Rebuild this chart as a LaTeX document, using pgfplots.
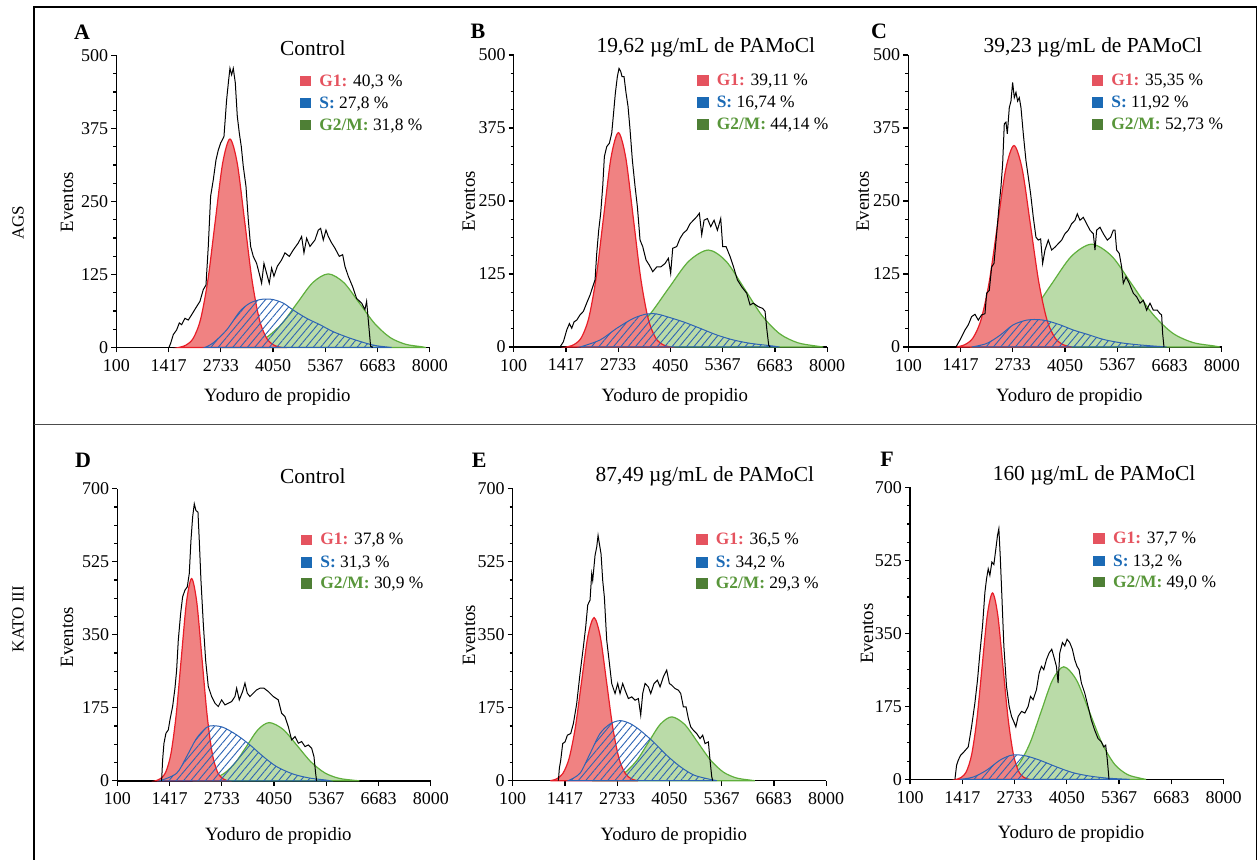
\documentclass[border=0pt]{standalone}
\usepackage{fontspec}
\setmainfont{Liberation Serif}
\usepackage{pgfplots}
\pgfplotsset{compat=1.18}
\usetikzlibrary{patterns.meta}

\definecolor{g1fill}{RGB}{240,130,130}
\definecolor{g1edge}{RGB}{232,30,40}
\definecolor{g2fill}{RGB}{186,219,168}
\definecolor{g2edge}{RGB}{95,175,60}
\definecolor{sblue}{RGB}{45,100,180}
\definecolor{cG1}{RGB}{229,83,95}
\definecolor{cS}{RGB}{27,106,181}
\definecolor{cG2}{RGB}{78,127,53}
\definecolor{tG2}{RGB}{88,150,58}

\pgfplotsset{
  panel/.style={
    width=156.75pt, height=146pt, scale only axis, anchor=south west,
    axis lines=left, axis line style={-, line width=0.75pt, black},
    xmin=100, xmax=8000, ymin=0,
    xtick={100,1416.67,2733.33,4050,5366.67,6683.33,8000},
    xticklabels={100,1417,2733,4050,5367,6683,8000},
    minor tick num=3,
    tick align=outside, major tick length=2.5pt, minor tick length=1.5pt,
    tick style={line width=0.6pt, black},
    tick label style={font=\fontsize{9}{11}\selectfont},
    yticklabel style={xshift=2pt},
    /pgf/number format/assume math mode=true,
    clip=false,
  },
  rowtop/.style={panel, ymax=500, ytick={0,125,250,375,500}},
  rowbot/.style={panel, ymax=700, ytick={0,175,350,525,700}},
  phG2/.style={draw=g2edge, fill=g2fill, line width=0.6pt, smooth},
  phG1/.style={draw=g1edge, fill=g1fill, line width=0.6pt, smooth},
  phS/.style={draw=sblue, line width=0.5pt, smooth, pattern={Lines[angle=50,distance=2.8pt,line width=0.45pt]}, pattern color=sblue},
  histo/.style={black, line width=0.5pt, sharp plot},
}
\tikzset{
  plett/.style={font=\fontsize{11}{12}\selectfont\bfseries},
  ptit/.style={font=\fontsize{10.7}{12}\selectfont},
  plab/.style={font=\fontsize{9.4}{11}\selectfont},
}
\newcommand{\phaselegend}[6]{%
  \node[anchor=west,inner sep=0pt,font=\fontsize{8.7}{10}\selectfont] at (axis description cs:0.584,#1) {\textcolor{cG1}{\rule{5.8pt}{5.2pt}}\hspace{4pt}\textbf{\textcolor{cG1}{G1:}} #4~\%};
  \node[anchor=west,inner sep=0pt,font=\fontsize{8.7}{10}\selectfont] at (axis description cs:0.584,#2) {\textcolor{cS}{\rule{5.8pt}{5.2pt}}\hspace{4pt}\textbf{\textcolor{cS}{S:}} #5~\%};
  \node[anchor=west,inner sep=0pt,font=\fontsize{8.7}{10}\selectfont] at (axis description cs:0.584,#3) {\textcolor{cG2}{\rule{5.8pt}{5.2pt}}\hspace{4pt}\textbf{\textcolor{tG2}{G2/M:}} #6~\%};
}

\begin{document}
\begin{tikzpicture}
\useasboundingbox (0,0) rectangle (629pt,430pt);
% frame
\draw[line width=0.65pt] (17pt,0pt) -- (17pt,426.5pt) -- (628.3pt,426.5pt) -- (628.3pt,0pt);
\draw[line width=0.8pt, black!70] (17pt,217.65pt) -- (628.3pt,217.65pt);
\node[rotate=90, font=\fontsize{8.5}{10}\selectfont] at (9pt,318.5pt) {AGS};
\node[rotate=90, font=\fontsize{8.5}{10}\selectfont] at (9pt,120.5pt) {KATO III};

% ---------------- A ----------------
\begin{axis}[rowtop, at={(58.15pt,256.25pt)}]
\addplot[phG2] coordinates {(2712,0) (3102,1.4) (3492,5.5) (3882,17.0) (4272,40.9) (4662,76.4) (5052,111.2) (5442,126) (5832,111.2) (6222,76.4) (6612,40.9) (7002,17.0) (7392,5.5) (7782,1.4) (7900,0)} \closedcycle;
\addplot[phG1] coordinates {(1669,0) (1854,4.0) (2039,15.7) (2224,48.3) (2409,115.9) (2594,216.5) (2779,315.1) (2964,357) (3149,315.1) (3334,216.5) (3519,115.9) (3704,48.3) (3889,15.7) (4074,4.0) (4259,0)} \closedcycle;
\addplot[phS] coordinates {(2330,0) (2544,8) (2880,30) (3216,62) (3468,76) (3720,82) (3888,83) (4056,82) (4308,76) (4560,64) (4896,50) (5232,39) (5568,27) (5988,16) (6408,7) (6660,3) (7038,0)} \closedcycle;
\addplot[histo] coordinates {(1427,0) (1469,7) (1536,22) (1620,30) (1688,42) (1746,39) (1830,50) (1914,47) (1998,56) (2124,70) (2208,79) (2292,99) (2360,107) (2418,173) (2477,259) (2544,287) (2612,321) (2670,338) (2729,350) (2813,361) (2880,424) (2931,458) (2964,478) (3006,467) (3048,478) (3099,453) (3149,396) (3200,367) (3250,344) (3300,310) (3368,276) (3426,219) (3485,173) (3552,156) (3636,144) (3720,122) (3762,110) (3821,144) (3888,127) (3955,110) (4014,136) (4073,122) (4157,139) (4266,150) (4350,162) (4460,156) (4560,167) (4686,179) (4770,190) (4829,162) (4897,187) (4980,173) (5106,184) (5190,201) (5249,204) (5316,184) (5384,201) (5443,190) (5527,179) (5610,170) (5720,156) (5804,159) (5862,139) (5946,122) (6056,104) (6156,84) (6282,76) (6366,65) (6408,79) (6450,47) (6509,2) (6560,0)};
\node[plett] at (axis description cs:-0.109,1.081) {A};
\node[ptit] at (axis description cs:0.627,1.026) {Control};
\node[plab] at (axis description cs:0.514,-0.170) {Yoduro de propidio};
\node[plab,rotate=90] at (axis description cs:-0.157,0.498) {Eventos};
\phaselegend{0.910}{0.835}{0.759}{40,3}{27,8}{31,8}
\end{axis}

% ---------------- B ----------------
\begin{axis}[rowtop, at={(256.85pt,256.5pt)}]
\addplot[phG2] coordinates {(1800,0) (2006,1.8) (2506,7.3) (3006,22.5) (3506,53.9) (4006,100.7) (4506,146.5) (5006,166) (5456,146.5) (5906,100.7) (6356,53.9) (6806,22.5) (7256,7.3) (7706,1.8) (7900,0)} \closedcycle;
\addplot[phG1] coordinates {(1432.5,0) (1619,4.1) (1805.5,16.1) (1992,49.7) (2178.5,119.2) (2365,222.6) (2551.5,323.9) (2738,367) (2924.5,323.9) (3111,222.6) (3297.5,119.2) (3484,49.7) (3670.5,16.1) (3857,4.1) (4043.5,0)} \closedcycle;
\addplot[phS] coordinates {(1772,0) (2276,12) (2696,32) (3116,49) (3452,56.5) (3704,56.5) (3956,52) (4376,43) (4796,32) (5216,20.6) (5636,12) (6056,6.3) (6476,2.9) (6627,1.7) (6800,0)} \closedcycle;
\addplot[histo] coordinates {(1268,0) (1352,9) (1436,29) (1503,40) (1562,32) (1621,43) (1688,46) (1772,55) (1856,61) (1956,78) (2024,89) (2091,103) (2150,115) (2192,160) (2242,200) (2292,229) (2343,275) (2385,326) (2444,343) (2511,349) (2570,366) (2612,397) (2662,435) (2712,463) (2754,477) (2796,472) (2830,463) (2880,463) (2931,435) (2981,412) (3032,372) (3090,320) (3158,275) (3217,240) (3284,183) (3351,172) (3435,149) (3519,140) (3603,129) (3704,137) (3805,137) (3914,143) (3998,152) (4056,126) (4107,169) (4208,172) (4292,186) (4376,195) (4460,200) (4544,211) (4628,217) (4712,223) (4779,229) (4838,192) (4897,217) (4981,220) (5065,206) (5149,217) (5233,200) (5317,220) (5367,172) (5451,172) (5552,155) (5636,138) (5736,115) (5846,103) (5972,92) (6056,72) (6140,75) (6266,69) (6375,66) (6434,61) (6476,32) (6526,3) (6560,0)};
\node[plett] at (axis description cs:-0.114,1.081) {B};
\node[ptit] at (axis description cs:0.613,1.026) {19,62 µg/mL de PAMoCl};
\node[plab] at (axis description cs:0.514,-0.170) {Yoduro de propidio};
\node[plab,rotate=90] at (axis description cs:-0.143,0.498) {Eventos};
\phaselegend{0.910}{0.835}{0.759}{39,11}{16,74}{44,14}
\end{axis}

% ---------------- C ----------------
\begin{axis}[rowtop, at={(454.15pt,256.5pt)}]
\addplot[phG2] coordinates {(1660,0) (2170,7.7) (2680,23.8) (3190,57.1) (3700,106.7) (4210,155.3) (4720,176) (5230,155.3) (5740,106.7) (6250,57.1) (6760,23.8) (7270,7.7) (7780,2.0) (7950,0)} \closedcycle;
\addplot[phG1] coordinates {(1310.5,0) (1518,3.8) (1725.5,15.1) (1933,46.7) (2140.5,112.0) (2348,209.2) (2555.5,304.5) (2763,345) (2970.5,304.5) (3178,209.2) (3385.5,112.0) (3593,46.7) (3800.5,15.1) (4008,3.8) (4215.5,0)} \closedcycle;
\addplot[phS] coordinates {(1696,0) (2074,6) (2410,20) (2746,38) (3082,46) (3334,47) (3586,45) (3922,38) (4258,29) (4594,22) (5014,13) (5434,7.4) (5854,4) (6274,1.7) (6610,0)} \closedcycle;
\addplot[histo] coordinates {(1301,0) (1402,12) (1528,29) (1612,38) (1696,52) (1780,56) (1864,46) (1948,55) (2032,57) (2074,92) (2141,97) (2200,137) (2259,143) (2326,194) (2385,240) (2435,274) (2477,313) (2519,382) (2561,385) (2595,365) (2645,410) (2687,421) (2729,453) (2771,427) (2813,436) (2855,421) (2897,427) (2939,410) (2998,365) (3065,319) (3124,291) (3183,262) (3250,222) (3317,188) (3376,183) (3435,185) (3485,143) (3544,166) (3628,183) (3712,166) (3796,171) (3880,177) (3964,183) (4048,194) (4132,200) (4216,211) (4300,217) (4359,228) (4426,217) (4510,222) (4594,211) (4678,200) (4762,194) (4804,166) (4846,200) (4930,205) (5014,194) (5115,183) (5199,188) (5266,200) (5308,200) (5350,166) (5417,160) (5476,137) (5518,109) (5585,120) (5669,109) (5770,92) (5854,86) (5938,75) (6022,80) (6106,63) (6190,75) (6274,63) (6375,63) (6442,57) (6484,55) (6509,23) (6543,0)};
\node[plett] at (axis description cs:-0.093,1.081) {C};
\node[ptit] at (axis description cs:0.589,1.026) {39,23 µg/mL de PAMoCl};
\node[plab] at (axis description cs:0.514,-0.170) {Yoduro de propidio};
\node[plab,rotate=90] at (axis description cs:-0.145,0.498) {Eventos};
\phaselegend{0.910}{0.835}{0.759}{35,35}{11,92}{52,73}
\end{axis}

% ---------------- D ----------------
\begin{axis}[rowbot, at={(58.65pt,39.6pt)}]
\addplot[phG2] coordinates {(2000,0) (2250,1.5) (2530,6.1) (2810,18.9) (3090,45.3) (3370,84.6) (3650,123.1) (3930,139.5) (4280,123.1) (4630,84.6) (4980,45.3) (5330,18.9) (5680,6.1) (6030,1.5) (6200,0)} \closedcycle;
\addplot[phG1] coordinates {(1063,0) (1193,5.4) (1323,21.3) (1453,65.6) (1583,157.5) (1713,294.2) (1843,428.0) (1973,485) (2103,428.0) (2233,294.2) (2363,157.5) (2493,65.6) (2623,21.3) (2753,5.4) (2883,0)} \closedcycle;
\addplot[phS] coordinates {(1175,0) (1595,18) (1847,58) (2099,102) (2351,128) (2519,132) (2771,128) (3107,110) (3443,86) (3779,58) (4115,34) (4535,16) (4956,6.4) (5375,1.6) (5459,0)} \closedcycle;
\addplot[histo] coordinates {(1217,0) (1242,50) (1276,90) (1326,114) (1385,122) (1427,146) (1494,178) (1553,222) (1595,265) (1637,337) (1696,401) (1746,441) (1805,457) (1864,465) (1914,497) (1956,576) (1998,632) (2040,664) (2082,648) (2133,644) (2166,576) (2208,481) (2267,377) (2326,289) (2393,226) (2477,202) (2561,186) (2645,178) (2729,194) (2813,182) (2897,186) (2981,190) (3065,202) (3107,222) (3174,194) (3258,214) (3317,234) (3376,210) (3443,202) (3527,210) (3612,218) (3696,222) (3796,222) (3905,214) (4031,202) (4157,194) (4241,162) (4325,154) (4409,130) (4493,98) (4578,106) (4662,90) (4746,94) (4830,82) (4914,86) (4998,78) (5056,58) (5098,18) (5123,0)};
\node[plett] at (axis description cs:-0.109,1.097) {D};
\node[ptit] at (axis description cs:0.624,1.042) {Control};
\node[plab] at (axis description cs:0.514,-0.188) {Yoduro de propidio};
\node[plab,rotate=90] at (axis description cs:-0.160,0.492) {Eventos};
\phaselegend{0.823}{0.745}{0.673}{37,8}{31,3}{30,9}
\end{axis}

% ---------------- E ----------------
\begin{axis}[rowbot, at={(256.35pt,39.65pt)}]
\addplot[phG2] coordinates {(2100,0) (2367,1.7) (2657,6.7) (2947,20.7) (3237,49.7) (3527,92.8) (3817,135.0) (4107,153) (4432,135.0) (4757,92.8) (5082,49.7) (5407,20.7) (5732,6.7) (6057,1.7) (6200,0)} \closedcycle;
\addplot[phG1] coordinates {(1047.5,0) (1205,4.3) (1362.5,17.2) (1520,52.9) (1677.5,127.0) (1835,237.1) (1992.5,345.1) (2150,391) (2307.5,345.1) (2465,237.1) (2622.5,127.0) (2780,52.9) (2937.5,17.2) (3095,4.3) (3252.5,0)} \closedcycle;
\addplot[phS] coordinates {(1503,0) (1797,18) (2049,65) (2301,113) (2553,136) (2805,144) (3057,137) (3309,121) (3645,93) (3981,61) (4317,34) (4653,14) (4989,5) (5157,1.6) (5241,0)} \closedcycle;
\addplot[histo] coordinates {(1251,0) (1276,30) (1310,49) (1360,89) (1419,93) (1478,109) (1562,113) (1629,137) (1713,185) (1797,257) (1881,321) (1940,369) (1990,421) (2049,433) (2091,496) (2116,480) (2175,540) (2217,560) (2251,588) (2284,568) (2326,544) (2368,480) (2410,440) (2469,337) (2528,289) (2595,233) (2679,209) (2746,233) (2805,209) (2872,233) (2931,217) (3015,197) (3099,201) (3183,193) (3267,197) (3326,157) (3376,209) (3435,233) (3519,225) (3578,209) (3662,233) (3746,241) (3813,225) (3897,249) (3981,265) (4048,233) (4107,229) (4191,221) (4275,217) (4334,209) (4401,177) (4468,177) (4527,149) (4586,129) (4653,121) (4737,113) (4821,101) (4888,109) (4947,89) (5031,93) (5073,49) (5115,10) (5140,0)};
\node[plett] at (axis description cs:-0.107,1.097) {E};
\node[ptit] at (axis description cs:0.613,1.042) {87,49 µg/mL de PAMoCl};
\node[plab] at (axis description cs:0.514,-0.188) {Yoduro de propidio};
\node[plab,rotate=90] at (axis description cs:-0.139,0.499) {Eventos};
\phaselegend{0.823}{0.745}{0.673}{36,5}{34,2}{29,3}
\end{axis}

% ---------------- F ----------------
\begin{axis}[rowbot, at={(455pt,40.3pt)}]
\addplot[phG2] coordinates {(2050,0) (2279,3.0) (2561.5,11.9) (2844,36.5) (3126.5,87.7) (3409,163.8) (3691.5,238.3) (3974,270) (4294,238.3) (4614,163.8) (4934,87.7) (5254,36.5) (5574,11.9) (5894,3.0) (6050,0)} \closedcycle;
\addplot[phG1] coordinates {(1263,0) (1394,5.0) (1525,19.6) (1656,60.5) (1787,145.1) (1918,271.1) (2049,394.5) (2180,447) (2311,394.5) (2442,271.1) (2573,145.1) (2704,60.5) (2835,19.6) (2966,5.0) (3097,0)} \closedcycle;
\addplot[phS] coordinates {(1358,0) (1693,5.6) (2029,22) (2364,46) (2616,57) (2784,59) (3035,56) (3371,46) (3790,30) (4209,16) (4628,8) (5048,3.2) (5467,0.8) (5635,0)} \closedcycle;
\addplot[histo] coordinates {(1232,0) (1274,34) (1316,46) (1375,58) (1459,66) (1568,78) (1651,126) (1735,183) (1802,239) (1861,303) (1928,368) (1987,448) (2029,481) (2071,505) (2113,489) (2163,521) (2213,515) (2264,553) (2305,585) (2339,601) (2373,537) (2415,440) (2465,320) (2532,223) (2599,175) (2658,151) (2717,138) (2767,126) (2826,151) (2910,163) (2993,159) (3077,175) (3136,199) (3203,191) (3287,215) (3354,255) (3412,271) (3471,263) (3538,287) (3605,303) (3672,312) (3723,295) (3790,271) (3832,231) (3874,303) (3941,328) (4000,320) (4058,336) (4125,328) (4192,312) (4251,287) (4309,271) (4360,263) (4419,231) (4503,207) (4587,175) (4670,142) (4754,118) (4838,98) (4922,90) (4981,78) (5031,82) (5073,46) (5115,0)};
\node[plett] at (axis description cs:-0.073,1.097) {F};
\node[ptit] at (axis description cs:0.587,1.042) {160 µg/mL de PAMoCl};
\node[plab] at (axis description cs:0.514,-0.188) {Yoduro de propidio};
\node[plab,rotate=90] at (axis description cs:-0.137,0.499) {Eventos};
\phaselegend{0.823}{0.745}{0.673}{37,7}{13,2}{49,0}
\end{axis}
\end{tikzpicture}
\end{document}
